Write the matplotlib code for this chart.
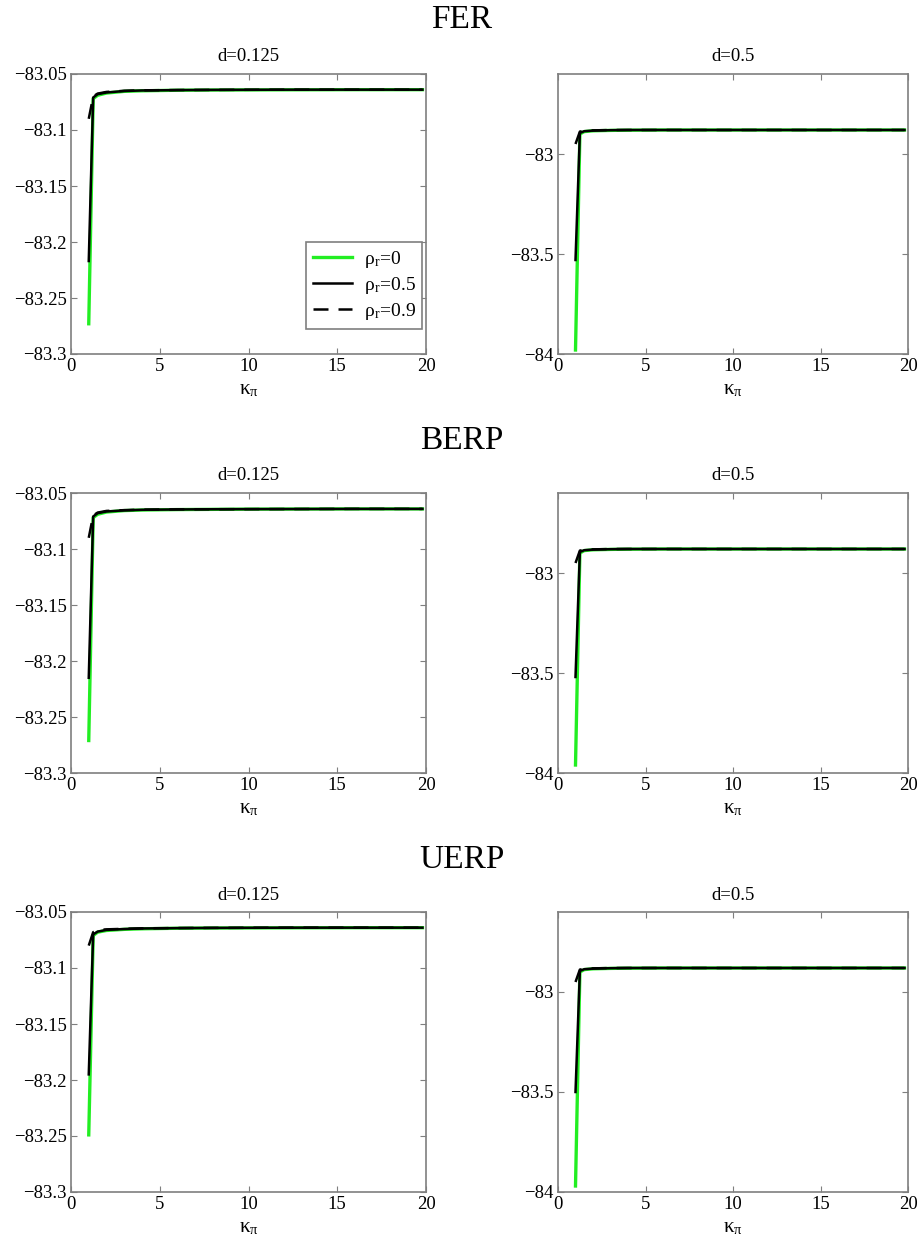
import matplotlib
matplotlib.use("Agg")
import matplotlib.pyplot as plt

plt.rcParams['font.family'] = ['Liberation Serif', 'DejaVu Serif']
plt.rcParams['mathtext.fontset'] = 'stix'

# kappa_pi grid
kappa = [1.0, 1.25, 1.5, 2.0, 3.0, 4.0, 6.0, 8.0, 10.0, 13.0, 16.0, 19.8]

rows = ["FER", "BERP", "UERP"]
d_labels = ["d=0.125", "d=0.5"]
legend_labels = ["ρ$_\\mathregular{r}$=0", "ρ$_\\mathregular{r}$=0.5", "ρ$_\\mathregular{r}$=0.9"]

# left panels (d=0.125): rho_r = 0, 0.5, 0.9
fer_l_r0 = [-83.273, -83.072, -83.069, -83.067, -83.0655, -83.065, -83.0645, -83.0643, -83.0642, -83.0641, -83.064, -83.064]
fer_l_r5 = [-83.217, -83.071, -83.068, -83.0665, -83.0652, -83.0647, -83.0644, -83.0642, -83.0641, -83.064, -83.064, -83.064]
fer_l_r9 = [-83.090, -83.070, -83.0675, -83.066, -83.065, -83.0646, -83.0643, -83.0642, -83.0641, -83.064, -83.064, -83.064]
berp_l_r0 = [-83.271, -83.072, -83.069, -83.067, -83.0657, -83.0652, -83.0648, -83.0646, -83.0644, -83.0643, -83.0642, -83.0642]
berp_l_r5 = [-83.215, -83.071, -83.068, -83.0665, -83.0655, -83.065, -83.0647, -83.0645, -83.0644, -83.0643, -83.0642, -83.0642]
berp_l_r9 = [-83.090, -83.070, -83.0675, -83.066, -83.0653, -83.0649, -83.0646, -83.0645, -83.0644, -83.0643, -83.0642, -83.0642]
uerp_l_r0 = [-83.249, -83.071, -83.068, -83.0665, -83.0655, -83.065, -83.0645, -83.0643, -83.0642, -83.0641, -83.064, -83.064]
uerp_l_r5 = [-83.195, -83.070, -83.0675, -83.066, -83.0652, -83.0647, -83.0644, -83.0642, -83.0641, -83.064, -83.064, -83.064]
uerp_l_r9 = [-83.080, -83.068, -83.066, -83.0655, -83.065, -83.0646, -83.0643, -83.0642, -83.0641, -83.064, -83.064, -83.064]

# right panels (d=0.5)
fer_r_r0 = [-83.98, -82.90, -82.888, -82.884, -82.882, -82.881, -82.88, -82.88, -82.88, -82.88, -82.88, -82.88]
fer_r_r5 = [-83.53, -82.895, -82.886, -82.883, -82.881, -82.88, -82.88, -82.88, -82.88, -82.88, -82.88, -82.88]
fer_r_r9 = [-82.95, -82.888, -82.884, -82.882, -82.88, -82.88, -82.88, -82.88, -82.88, -82.88, -82.88, -82.88]
berp_r_r0 = [-83.96, -82.90, -82.888, -82.884, -82.882, -82.881, -82.88, -82.88, -82.88, -82.88, -82.88, -82.88]
berp_r_r5 = [-83.52, -82.895, -82.886, -82.883, -82.881, -82.88, -82.88, -82.88, -82.88, -82.88, -82.88, -82.88]
berp_r_r9 = [-82.95, -82.888, -82.884, -82.882, -82.88, -82.88, -82.88, -82.88, -82.88, -82.88, -82.88, -82.88]
uerp_r_r0 = [-83.97, -82.90, -82.888, -82.884, -82.882, -82.881, -82.88, -82.88, -82.88, -82.88, -82.88, -82.88]
uerp_r_r5 = [-83.50, -82.895, -82.886, -82.883, -82.881, -82.88, -82.88, -82.88, -82.88, -82.88, -82.88, -82.88]
uerp_r_r9 = [-82.95, -82.888, -82.884, -82.882, -82.88, -82.88, -82.88, -82.88, -82.88, -82.88, -82.88, -82.88]

series = [
    [(fer_l_r0, fer_l_r5, fer_l_r9), (fer_r_r0, fer_r_r5, fer_r_r9)],
    [(berp_l_r0, berp_l_r5, berp_l_r9), (berp_r_r0, berp_r_r5, berp_r_r9)],
    [(uerp_l_r0, uerp_l_r5, uerp_l_r9), (uerp_r_r0, uerp_r_r5, uerp_r_r9)],
]

left_yticks = [-83.3, -83.25, -83.2, -83.15, -83.1, -83.05]
left_ylabels = ["-83.3", "-83.25", "-83.2", "-83.15", "-83.1", "-83.05"]
right_yticks = [-84, -83.5, -83]
right_ylabels = ["-84", "-83.5", "-83"]
xticks = [0, 5, 10, 15, 20]

W, H = 924, 1249
fig = plt.figure(figsize=(W / 100, H / 100), dpi=100)

col_x = [(71, 426), (558, 908)]
row_y = [(74, 354), (493, 773), (912, 1192)]
title_y = [20, 441, 860]
edge = '#7f7f7f'

for r in range(3):
    fig.text(0.5, 1 - title_y[r] / H, rows[r], ha='center', va='center', fontsize=24)
    for c in range(2):
        x0, x1 = col_x[c]
        y0, y1 = row_y[r]
        ax = fig.add_axes([x0 / W, 1 - y1 / H, (x1 - x0) / W, (y1 - y0) / H])
        g, b, dsh = series[r][c]
        ax.plot(kappa, g, color='#22ee22', lw=2.4, label=legend_labels[0])
        ax.plot(kappa, b, color='black', lw=1.8, label=legend_labels[1])
        ax.plot(kappa, dsh, color='black', lw=1.8, ls=(0, (6, 4)), label=legend_labels[2])
        ax.set_xlim(0, 20)
        ax.set_xticks(xticks)
        if c == 0:
            ax.set_ylim(-83.3, -83.05)
            ax.set_yticks(left_yticks)
            ax.set_yticklabels([s.replace('-', '\u2212') for s in left_ylabels])
        else:
            ax.set_ylim(-84, -82.6)
            ax.set_yticks(right_yticks)
            ax.set_yticklabels([s.replace('-', '\u2212') for s in right_ylabels])
        ax.set_title(d_labels[c], fontsize=13.5, pad=9)
        ax.set_xlabel("κ$_\\mathregular{π}$", fontsize=15, labelpad=4)
        ax.tick_params(direction='in', top=True, right=True, labelsize=13.5,
                       length=4, color=edge, pad=3)
        for sp in ax.spines.values():
            sp.set_color(edge)
            sp.set_linewidth(1.2)
        if r == 0 and c == 0:
            leg = ax.legend(loc='lower right', bbox_to_anchor=(0.99, 0.09),
                            fontsize=14, fancybox=False, framealpha=1,
                            handlelength=2.0, handletextpad=0.6, borderpad=0.35,
                            labelspacing=0.25, borderaxespad=0)
            leg.get_frame().set_edgecolor(edge)
            leg.get_frame().set_linewidth(1.2)

fig.savefig("out.png", dpi=100)
